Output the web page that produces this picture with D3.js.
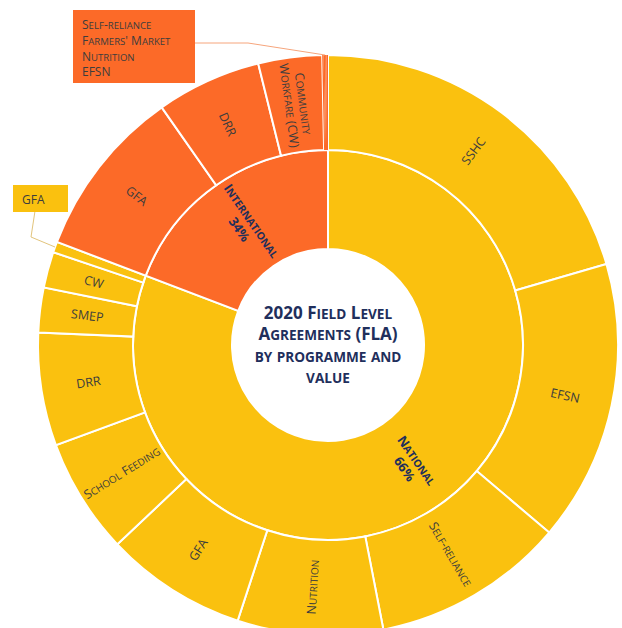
<!DOCTYPE html>
<html>
<head>
<meta charset="utf-8">
<script src="https://cdn.jsdelivr.net/npm/d3@7"></script>
<style>
    body { margin: 0; background: #fff; }
    text { font-family: "Open Sans", "Noto Sans", sans-serif; }
    .sc { text-transform: uppercase; font-size: 0.8em; }
</style>
</head>
<body>
<div id="wrapper"></div>
<script>
// share of the full circle (%) for each slice
const groups = ["National", "International"]
const groupPercents = ["66%", "34%"]
const nationalProgrammes = ["SSHC", "EFSN", "Self-reliance", "Nutrition", "GFA", "School Feeding", "DRR", "SMEP", "CW", "GFA"]
const nationalShares = [20.5, 15.7, 10.75, 8.1, 7.9, 6.45, 6.3, 2.5, 2.0, 0.6]
const internationalProgrammes = ["GFA", "DRR", "Community\nWorkfare (CW)", "Self-reliance", "Farmers' Market", "Nutrition", "EFSN"]
const internationalShares = [9.5, 5.85, 3.55, 0.08, 0.08, 0.08, 0.08]
const titleLines = ["2020 Field Level", "Agreements (FLA)", "by programme and", "value"]

drawSunburst()

function drawSunburst() {
    const dimensions = createChartDimensions()
    const svg = d3.select("#wrapper")
        .append("svg")
        .attr("width", dimensions.width)
        .attr("height", dimensions.height)
    const bounds = svg.append("g")
        .attr("transform", `translate(${dimensions.cx}, ${dimensions.cy})`)

    const root = buildHierarchy()
    const color = d3.scaleOrdinal().domain(groups).range(["#FAC10F", "#FC6A28"])
    const arc = d3.arc()
        .startAngle(d => d.x0)
        .endAngle(d => d.x1)
        .innerRadius(d => dimensions.radii[d.depth - 1])
        .outerRadius(d => dimensions.radii[d.depth])

    drawArcs(bounds, root, arc, color)
    drawLabels(bounds, root, arc)
    drawTitle(bounds)
    drawCallouts(svg, root, dimensions, color)
}

function createChartDimensions() {
    return {
        width: 622,
        height: 628,
        cx: 328,
        cy: 345,
        radii: [96, 195, 290],
    }
}

function buildHierarchy() {
    const lists = [[nationalProgrammes, nationalShares], [internationalProgrammes, internationalShares]]
    const data = {
        name: "FLA",
        children: groups.map((g, i) => ({
            name: g,
            percent: groupPercents[i],
            children: lists[i][0].map((p, j) => ({name: p, value: lists[i][1][j]}))
        }))
    }
    const root = d3.hierarchy(data).sum(d => d.value || 0)
    d3.partition().size([2 * Math.PI, 2])(root)
    return root
}

function isTiny(d) {
    return d.x1 - d.x0 < 0.01
}

// small caps by hand: lowercase runs are shown as smaller capitals
function smallCaps(tspan, str) {
    const runs = str.match(/[a-z]+|[^a-z]+/g) || []
    runs.forEach(r => {
        const t = tspan.append("tspan").text(r)
        if (/[a-z]/.test(r)) t.attr("class", "sc")
    })
}

function writeLines(text, lines, x, yFor) {
    lines.forEach((l, i) => {
        const line = text.append("tspan")
            .attr("x", x)
            .attr("y", yFor(i))
            .attr("dy", "0.35em")
        smallCaps(line, l)
    })
}

function drawArcs(bounds, root, arc, color) {
    bounds.selectAll("path")
        .data(root.descendants().filter(d => d.depth > 0))
        .join("path")
        .attr("d", arc)
        .attr("fill", d => color(d.depth === 1 ? d.data.name : d.parent.data.name))
        .attr("stroke", d => isTiny(d) ? "none" : "#fff")
        .attr("stroke-width", 2)
}

function labelTransform(d, arc) {
    const [x, y] = arc.centroid(d)
    const deg = (d.x0 + d.x1) / 2 * 180 / Math.PI
    const rot = deg < 180 ? deg - 90 : deg - 270
    return `translate(${x}, ${y}) rotate(${rot})`
}

function drawLabels(bounds, root, arc) {
    const outer = root.descendants().filter(d => d.depth === 2 && d.x1 - d.x0 > 0.05)
    bounds.selectAll(".outer-label")
        .data(outer)
        .join("text")
        .attr("class", "outer-label")
        .attr("transform", d => labelTransform(d, arc))
        .attr("text-anchor", "middle")
        .attr("fill", "#3d3d3d")
        .style("font-size", "12.5px")
        .each(function (d) {
            const lines = d.data.name.split("\n")
            writeLines(d3.select(this), lines, 0, i => (i - (lines.length - 1) / 2) * 14)
        })

    bounds.selectAll(".group-label")
        .data(root.children)
        .join("text")
        .attr("class", "group-label")
        .attr("transform", d => labelTransform(d, arc))
        .attr("text-anchor", "middle")
        .attr("fill", "#1F2F5C")
        .style("font-size", "13px")
        .style("font-weight", "bold")
        .each(function (d) {
            writeLines(d3.select(this), [d.data.name, d.data.percent], 0, i => (i - 0.5) * 15)
        })
}

function drawTitle(bounds) {
    const title = bounds.append("text")
        .attr("text-anchor", "middle")
        .attr("fill", "#1F2F5C")
        .style("font-size", "17px")
        .style("font-weight", "bold")
    writeLines(title, titleLines, 0, i => (i - 1.5) * 21.5)
}

function drawCallouts(svg, root, dimensions, color) {
    const national = root.children[0]
    const international = root.children[1]
    const tinyIntl = international.children.filter(isTiny)
    const tinyNat = national.children.slice(-1)

    const callouts = [
        {
            nodes: tinyIntl, group: "International",
            box: {x: 73, y: 10, w: 122, h: 73}, elbow: [[195, 43], [248, 43]],
            lineColor: "#F6A57C"
        },
        {
            nodes: tinyNat, group: "National",
            box: {x: 13, y: 185, w: 55, h: 27}, elbow: [[35, 211], [31, 237]],
            lineColor: "#E2C47C"
        },
    ]

    callouts.forEach(c => {
        const angle = (c.nodes[0].x0 + c.nodes[c.nodes.length - 1].x1) / 2
        const [tx, ty] = d3.pointRadial(angle, dimensions.radii[2])
        const points = [...c.elbow, [dimensions.cx + tx, dimensions.cy + ty]]
        svg.append("path")
            .attr("d", d3.line()(points))
            .attr("fill", "none")
            .attr("stroke", c.lineColor)
            .attr("stroke-width", 1)
        svg.append("rect")
            .attr("x", c.box.x)
            .attr("y", c.box.y)
            .attr("width", c.box.w)
            .attr("height", c.box.h)
            .attr("fill", color(c.group))
        const text = svg.append("text")
            .attr("fill", "#3d3d3d")
            .style("font-size", "12px")
        writeLines(text, c.nodes.map(n => n.data.name), c.box.x + 9, i => c.box.y + 15 + i * 15.7)
    })
}
</script>
</body>
</html>
